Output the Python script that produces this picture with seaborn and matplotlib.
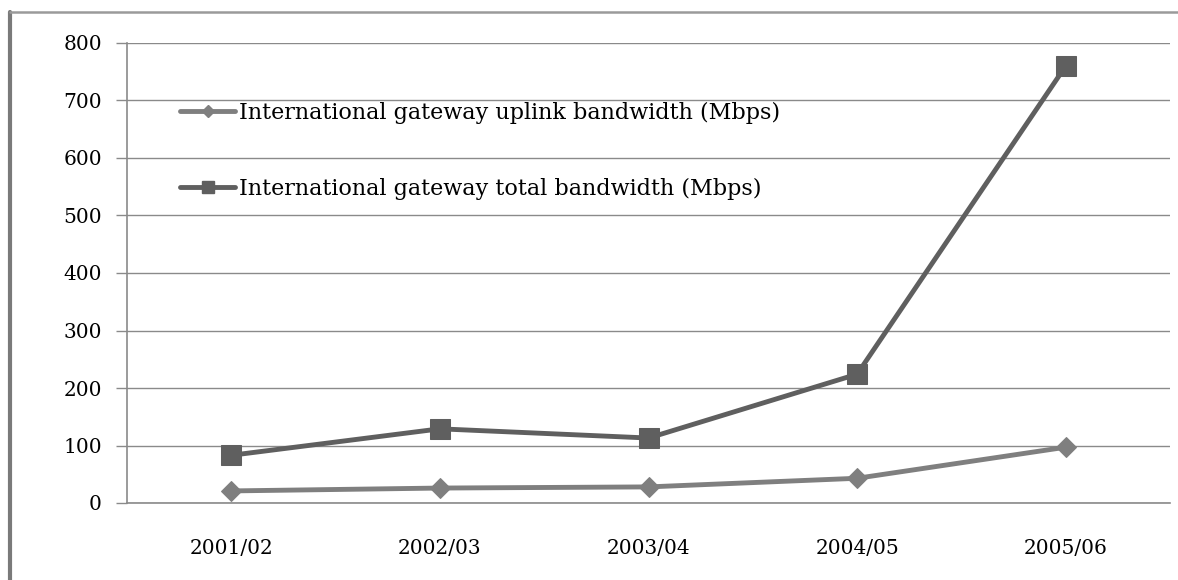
import matplotlib
matplotlib.use("Agg")
import matplotlib.pyplot as plt
import seaborn as sns
import pandas as pd
from matplotlib.lines import Line2D

years = ["2001/02", "2002/03", "2003/04", "2004/05", "2005/06"]
uplink = [21, 26, 28, 43, 97]
total = [83, 129, 113, 224, 760]
uplink_label = "International gateway uplink bandwidth (Mbps)"
total_label = "International gateway total bandwidth (Mbps)"

sns.set_theme(style="white")
plt.rcParams["font.family"] = ["DejaVu Serif"]
plt.rcParams["text.color"] = "black"
plt.rcParams["xtick.labelcolor"] = "black"
plt.rcParams["ytick.labelcolor"] = "black"

df = pd.DataFrame({"year": years * 2,
                   "value": uplink + total,
                   "series": [uplink_label] * 5 + [total_label] * 5})
df["x"] = list(range(5)) * 2

fig = plt.figure(figsize=(11.78, 5.8), dpi=100)
ax = fig.add_axes([127 / 1178, 1 - 503 / 580, (1170 - 127) / 1178, (503 - 43) / 580])

# outer frame: heavier on the left, lighter on top
fig.add_artist(Line2D([10 / 1178, 10 / 1178], [0, 1 - 12 / 580],
                      transform=fig.transFigure, color="#7a7a7a", linewidth=3))
fig.add_artist(Line2D([10 / 1178, 1], [1 - 12 / 580, 1 - 12 / 580],
                      transform=fig.transFigure, color="#9a9a9a", linewidth=1.8))

up_c = "#7f7f7f"
tot_c = "#5f5f5f"
sns.lineplot(data=df[df.series == uplink_label], x="x", y="value", ax=ax,
             color=up_c, linewidth=3.5, marker="D", markersize=10,
             markeredgecolor=up_c, legend=False)
sns.lineplot(data=df[df.series == total_label], x="x", y="value", ax=ax,
             color=tot_c, linewidth=3.5, marker="s", markersize=14,
             markeredgecolor=tot_c, legend=False)

ax.set_xlim(-0.5, 4.5)
ax.set_ylim(0, 800)
ax.set_yticks(range(0, 801, 100))
ax.set_yticklabels([str(v) for v in range(0, 801, 100)], fontsize=14.5)
ax.set_xticks(range(5))
ax.set_xticklabels(years, fontsize=14.5)
ax.set_xticks([i - 0.5 for i in range(6)], minor=True)
ax.tick_params(axis="x", which="major", length=0, pad=26)
ax.tick_params(axis="x", which="minor", length=8, width=1, color="#8a8a8a", direction="out")
ax.tick_params(axis="y", length=8, width=1, color="#8a8a8a", direction="out", pad=10, left=True)
ax.set_xlabel("")
ax.set_ylabel("")
ax.grid(axis="y", color="#8a8a8a", linewidth=1)
ax.set_axisbelow(True)
for s in ["top", "right"]:
    ax.spines[s].set_visible(False)
for s in ["left", "bottom"]:
    ax.spines[s].set_color("#8a8a8a")
    ax.spines[s].set_linewidth(1.2)

handles = [Line2D([], [], color=up_c, linewidth=3.5, marker="D", markersize=6),
           Line2D([], [], color=tot_c, linewidth=3.5, marker="s", markersize=9)]
ax.legend(handles, [uplink_label, total_label], loc="upper left",
          bbox_to_anchor=(0.04, 0.897), frameon=False, fontsize=16,
          handlelength=2.5, handletextpad=0.15, labelspacing=2.45,
          borderpad=0)

fig.savefig("out.png", dpi=100, facecolor="white")
